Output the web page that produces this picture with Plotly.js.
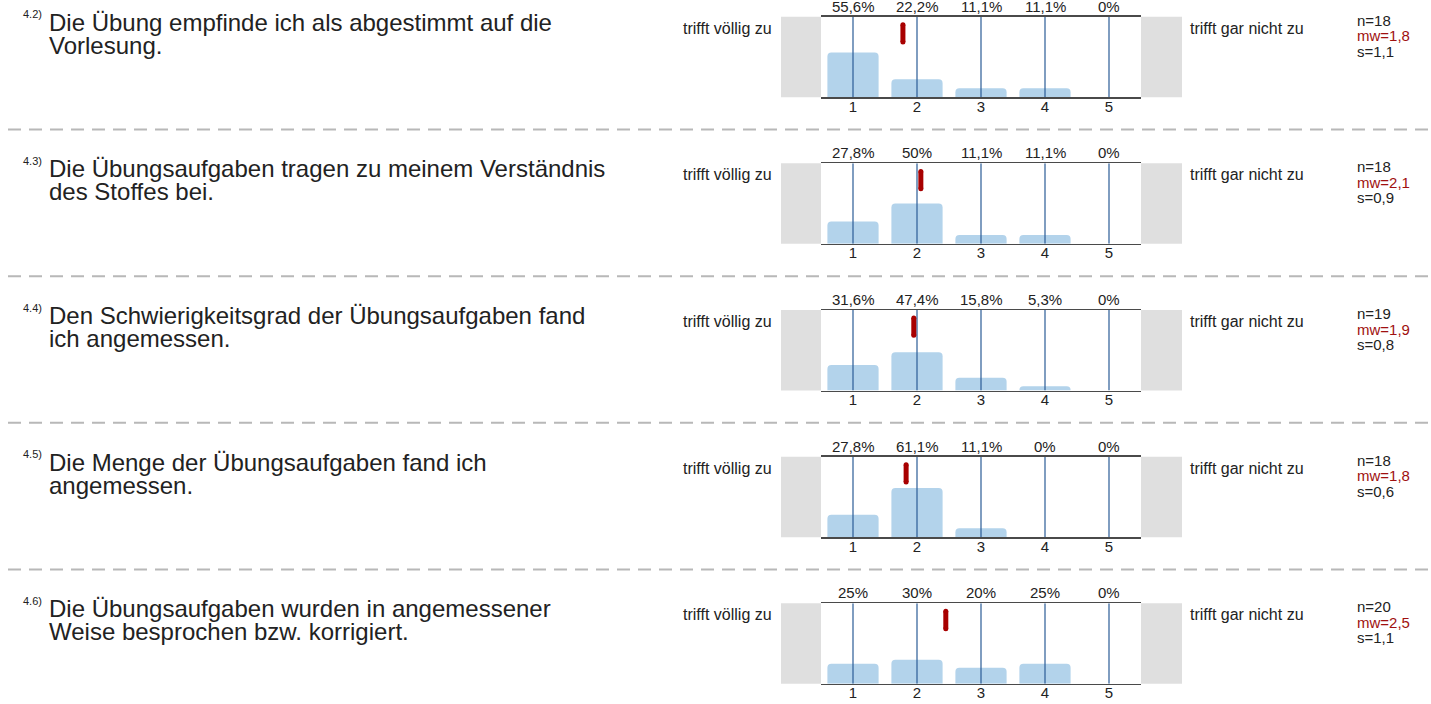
<!DOCTYPE html>
<html>
<head>
<meta charset="utf-8">
<script src="https://cdn.plot.ly/plotly-3.0.1.min.js"></script>
<style>html,body{margin:0;padding:0;background:#fff;}#chart{width:1431px;height:704px;}</style>
</head>
<body>
<div id="chart"></div>
<script>
// ---- data ----
const categories = [1, 2, 3, 4, 5];
const tickLabels = ["1", "2", "3", "4", "5"];
const questionNumbers = ["4.2)", "4.3)", "4.4)", "4.5)", "4.6)"];
const questionLine1 = [
  "Die Übung empfinde ich als abgestimmt auf die",
  "Die Übungsaufgaben tragen zu meinem Verständnis",
  "Den Schwierigkeitsgrad der Übungsaufgaben fand",
  "Die Menge der Übungsaufgaben fand ich",
  "Die Übungsaufgaben wurden in angemessener"
];
const questionLine2 = [
  "Vorlesung.",
  "des Stoffes bei.",
  "ich angemessen.",
  "angemessen.",
  "Weise besprochen bzw. korrigiert."
];
const pct1 = [55.6, 22.2, 11.1, 11.1, 0];
const pct2 = [27.8, 50, 11.1, 11.1, 0];
const pct3 = [31.6, 47.4, 15.8, 5.3, 0];
const pct4 = [27.8, 61.1, 11.1, 0, 0];
const pct5 = [25, 30, 20, 25, 0];
const pctLabels1 = ["55,6%", "22,2%", "11,1%", "11,1%", "0%"];
const pctLabels2 = ["27,8%", "50%", "11,1%", "11,1%", "0%"];
const pctLabels3 = ["31,6%", "47,4%", "15,8%", "5,3%", "0%"];
const pctLabels4 = ["27,8%", "61,1%", "11,1%", "0%", "0%"];
const pctLabels5 = ["25%", "30%", "20%", "25%", "0%"];
const nValues = [18, 18, 19, 18, 20];
const meanLabels = ["1,8", "2,1", "1,9", "1,8", "2,5"];
const meanPositions = [1.78, 2.06, 1.95, 1.83, 2.45];
const sdLabels = ["1,1", "0,9", "0,8", "0,6", "1,1"];
const leftLabel = "trifft völlig zu";
const rightLabel = "trifft gar nicht zu";

const pcts = [pct1, pct2, pct3, pct4, pct5];
const pctLabels = [pctLabels1, pctLabels2, pctLabels3, pctLabels4, pctLabels5];

// ---- layout geometry (pixels) ----
const W = 1431, H = 704;
const FONT = "Liberation Sans, Arial, sans-serif";
const rowStep = 146.65;
const chartTop0 = 16.7;
const chartH = 80.5;
const chartX0 = 821, chartX1 = 1141;
const px = v => v / W;
const py = v => 1 - v / H;

const traces = [];
const annotations = [];
const shapes = [];
const layout = {
  width: W, height: H,
  margin: {l: 0, r: 0, t: 0, b: 0},
  paper_bgcolor: "#ffffff",
  plot_bgcolor: "rgba(0,0,0,0)",
  showlegend: false,
  barcornerradius: 4,
  font: {family: FONT, color: "#222"},
  annotations: annotations,
  shapes: shapes
};

for (let i = 0; i < 5; i++) {
  const k = i + 1;
  const xa = "x" + k, ya = "y" + k;
  const top = chartTop0 + rowStep * i;
  const bottom = top + chartH;

  layout["xaxis" + k] = {
    domain: [px(chartX0), px(chartX1)],
    anchor: ya,
    range: [0.5, 5.5],
    tickvals: categories,
    ticktext: tickLabels,
    ticks: "",
    ticklabelstandoff: -5,
    showgrid: false,
    zeroline: false,
    showline: true,
    mirror: true,
    linecolor: "#4a4a4a",
    linewidth: 1.5,
    tickfont: {family: FONT, size: 15, color: "#222"},
    fixedrange: true
  };
  layout["yaxis" + k] = {
    domain: [py(bottom), py(top)],
    anchor: xa,
    range: [0, 100],
    showgrid: false, zeroline: false, showline: false,
    showticklabels: false, ticks: "",
    fixedrange: true
  };

  // bars
  traces.push({
    type: "bar", x: categories, y: pcts[i], xaxis: xa, yaxis: ya,
    width: 0.8, marker: {color: "#b3d3eb", line: {width: 0}},
    hoverinfo: "skip"
  });
  // vertical category lines
  const vx = [], vy = [];
  categories.forEach(c => { vx.push(c, c, null); vy.push(0, 100, null); });
  traces.push({
    type: "scatter", mode: "lines", x: vx, y: vy, xaxis: xa, yaxis: ya,
    line: {color: "#2b5c96", width: 1.2}, hoverinfo: "skip"
  });
  // mean marker
  traces.push({
    type: "scatter", mode: "lines+markers",
    x: [meanPositions[i], meanPositions[i]], y: [68.5, 90],
    xaxis: xa, yaxis: ya,
    line: {color: "#a80000", width: 5},
    marker: {color: "#a80000", size: 5},
    hoverinfo: "skip"
  });

  // percentage labels
  categories.forEach((c, j) => {
    annotations.push({
      xref: xa, yref: ya, x: c, y: 100, yanchor: "bottom", yshift: 0,
      text: pctLabels[i][j], showarrow: false,
      font: {family: FONT, size: 15, color: "#222"}
    });
  });

  // gray side boxes
  shapes.push({type: "rect", xref: "paper", yref: "paper",
    x0: px(781), x1: px(chartX0), y0: py(bottom), y1: py(top),
    fillcolor: "#dfdfdf", line: {width: 0}, layer: "below"});
  shapes.push({type: "rect", xref: "paper", yref: "paper",
    x0: px(chartX1), x1: px(1182), y0: py(bottom), y1: py(top),
    fillcolor: "#dfdfdf", line: {width: 0}, layer: "below"});

  // side labels
  annotations.push({xref: "paper", yref: "paper", x: px(774), y: py(top + 11.5),
    xanchor: "right", yanchor: "middle", text: leftLabel, showarrow: false,
    font: {family: FONT, size: 16, color: "#222"}});
  annotations.push({xref: "paper", yref: "paper", x: px(1188), y: py(top + 11.5),
    xanchor: "left", yanchor: "middle", text: rightLabel, showarrow: false,
    font: {family: FONT, size: 16, color: "#222"}});

  // stats
  annotations.push({xref: "paper", yref: "paper", x: px(1355), y: py(top + 3.5),
    xanchor: "left", yanchor: "middle", text: "n=" + nValues[i], showarrow: false,
    font: {family: FONT, size: 15, color: "#222"}});
  annotations.push({xref: "paper", yref: "paper", x: px(1355), y: py(top + 19),
    xanchor: "left", yanchor: "middle", text: "mw=" + meanLabels[i], showarrow: false,
    font: {family: FONT, size: 15, color: "#a01010"}});
  annotations.push({xref: "paper", yref: "paper", x: px(1355), y: py(top + 34.5),
    xanchor: "left", yanchor: "middle", text: "s=" + sdLabels[i], showarrow: false,
    font: {family: FONT, size: 15, color: "#222"}});

  // question number + text
  annotations.push({xref: "paper", yref: "paper", x: px(21), y: py(top - 2.5),
    xanchor: "left", yanchor: "middle", text: questionNumbers[i], showarrow: false,
    font: {family: FONT, size: 11, color: "#222"}});
  annotations.push({xref: "paper", yref: "paper", x: px(47), y: py(top + 5.5),
    xanchor: "left", yanchor: "middle", text: questionLine1[i], showarrow: false,
    font: {family: FONT, size: 24, color: "#222"}});
  annotations.push({xref: "paper", yref: "paper", x: px(47), y: py(top + 28.5),
    xanchor: "left", yanchor: "middle", text: questionLine2[i], showarrow: false,
    font: {family: FONT, size: 24, color: "#222"}});

  // dashed separator
  if (i < 4) {
    const sy = 129.5 + rowStep * i;
    shapes.push({type: "line", xref: "paper", yref: "paper",
      x0: px(8), x1: 1, y0: py(sy), y1: py(sy),
      line: {color: "#b8b8b8", width: 2, dash: "13px,8px"}});
  }
}

Plotly.newPlot("chart", traces, layout, {displayModeBar: false, staticPlot: true});
</script>
</body>
</html>
